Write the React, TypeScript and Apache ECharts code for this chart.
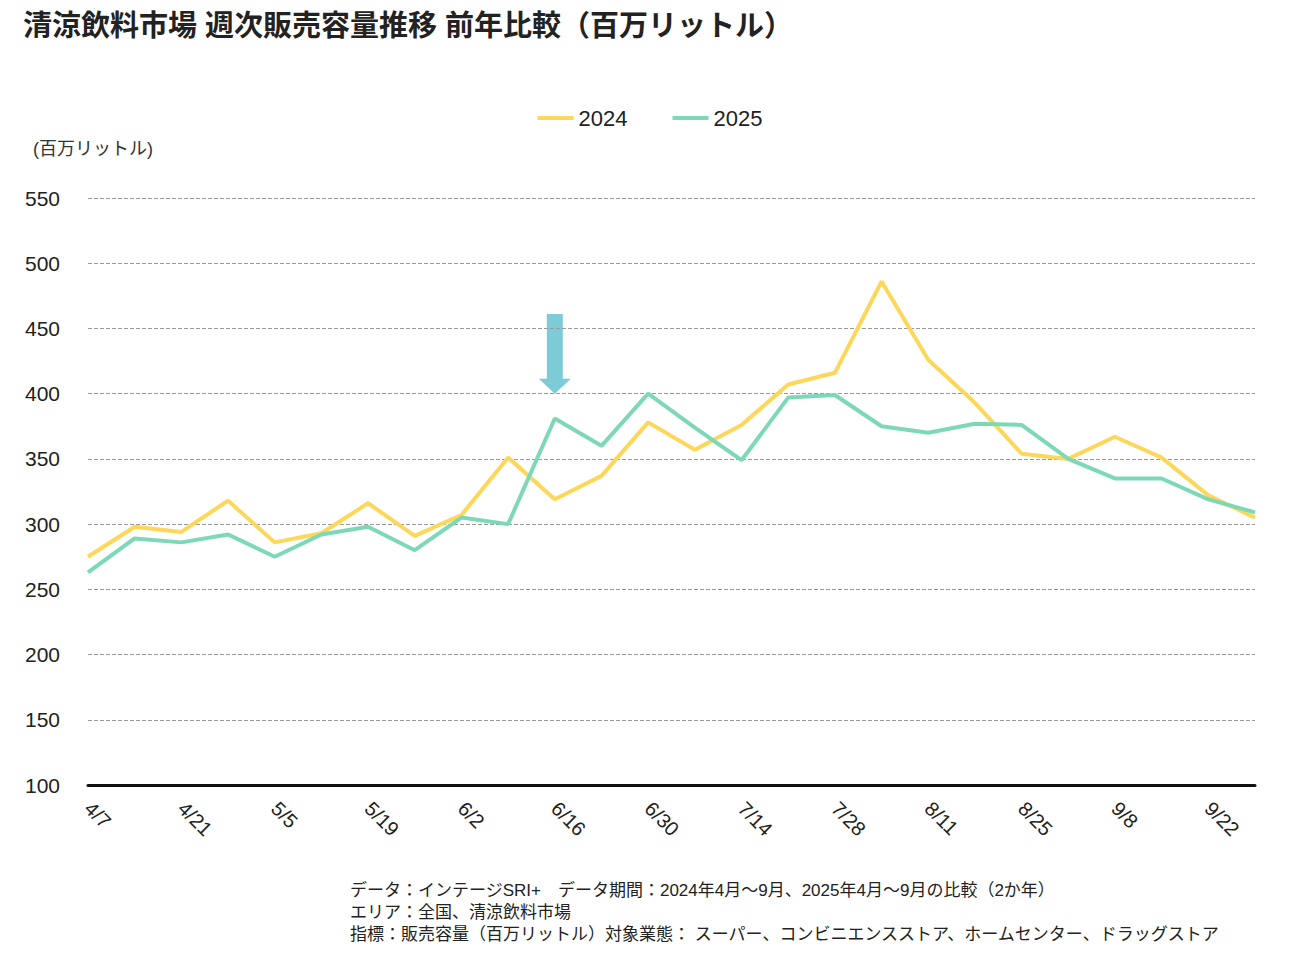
import React, { useEffect, useRef } from "react";
import * as echarts from "echarts";

const categories = ["4/7","4/14","4/21","4/28","5/5","5/12","5/19","5/26","6/2","6/9","6/16","6/23","6/30","7/7","7/14","7/21","7/28","8/4","8/11","8/18","8/25","9/1","9/8","9/15","9/22","9/29"];
const series2024 = [275,298,294,318,286,293,316,291,307,351,319,337,378,357,376,407,416,486,426,393,354,350,367,351,322,305];
const series2025 = [263,289,286,292,275,292,298,280,305,300,381,360,400,374,349,397,399,375,370,377,376,350,335,335,319,309];
const footnotes = [
  "データ：インテージSRI+　データ期間：2024年4月～9月、2025年4月～9月の比較（2か年）",
  "エリア：全国、清涼飲料市場",
  "指標：販売容量（百万リットル）対象業態： スーパー、コンビニエンスストア、ホームセンター、ドラッグストア",
];
const FONT = "'Liberation Sans', 'Noto Sans CJK JP', sans-serif";

export default function App() {
  const ref = useRef<HTMLDivElement>(null);
  useEffect(() => {
    document.body.style.margin = "0";
    const chart = echarts.init(ref.current!, null, { renderer: "svg" });
    const notes = footnotes.map((t, i) => ({
      type: "text", left: 350, top: 882 + i * 22,
      style: { text: t, fontSize: 17, fill: "#222", fontFamily: FONT },
    }));
    chart.setOption({
      animation: false,
      textStyle: { fontFamily: FONT },
      title: {
        text: "清涼飲料市場 週次販売容量推移 前年比較（百万リットル）",
        left: 18, top: 6,
        textStyle: { fontSize: 29, fontWeight: "bold", color: "#222", fontFamily: FONT },
      },
      legend: {
        top: 102, left: "center", itemWidth: 36, itemHeight: 4, itemGap: 45,
        icon: "rect",
        textStyle: { fontSize: 22, color: "#222" },
        data: ["2024", "2025"],
      },
      grid: { left: 88, right: 45, top: 198, bottom: 176 },
      xAxis: {
        type: "category", data: categories, boundaryGap: false,
        axisLine: { lineStyle: { color: "#111", width: 3 } },
        axisTick: { show: false },
        axisLabel: { interval: 1, rotate: -45, fontSize: 20, color: "#222", margin: 20 },
      },
      yAxis: {
        type: "value", min: 100, max: 550, interval: 50,
        name: "(百万リットル)", nameLocation: "end", nameGap: 40,
        nameTextStyle: { fontSize: 18, color: "#333", align: "left", padding: [0, 0, 0, -55] },
        axisLine: { show: false }, axisTick: { show: false },
        axisLabel: { fontSize: 21, color: "#222", margin: 28 },
        splitLine: { lineStyle: { type: "dashed", color: "#999" } },
      },
      series: [
        { name: "2024", type: "line", data: series2024, symbol: "none", lineStyle: { width: 4, color: "#fdd75a" }, itemStyle: { color: "#fdd75a" } },
        { name: "2025", type: "line", data: series2025, symbol: "none", lineStyle: { width: 4, color: "#7dd8b8" }, itemStyle: { color: "#7dd8b8" } },
      ],
      graphic: notes,
    });
    const top = chart.convertToPixel({ xAxisIndex: 0, yAxisIndex: 0 }, ["6/16", 461]) as number[];
    const bot = chart.convertToPixel({ xAxisIndex: 0, yAxisIndex: 0 }, ["6/16", 400]) as number[];
    const x = top[0];
    chart.setOption({
      graphic: [
        ...notes,
        {
          type: "polygon",
          shape: { points: [[x - 8, top[1]], [x + 8, top[1]], [x + 8, bot[1] - 15], [x + 16, bot[1] - 15], [x, bot[1]], [x - 16, bot[1] - 15], [x - 8, bot[1] - 15]] },
          style: { fill: "#7ecbd8" },
        },
      ],
    });
    return () => chart.dispose();
  }, []);
  return <div ref={ref} style={{ width: 1300, height: 961 }} />;
}
